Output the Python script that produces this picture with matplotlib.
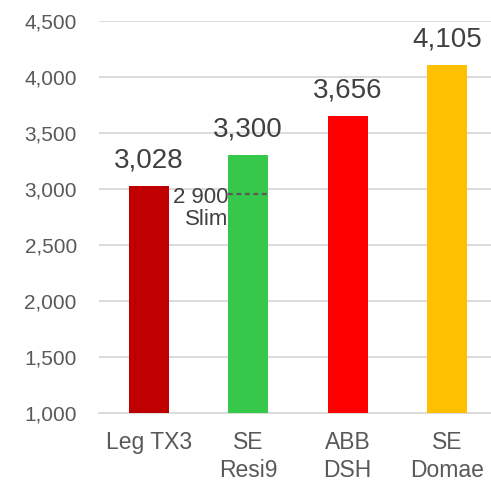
import matplotlib.pyplot as plt

plt.rcParams['font.family'] = ['Liberation Sans', 'DejaVu Sans']

# data
categories = ['Leg TX3', 'SE\nResi9', 'ABB\nDSH', 'SE\nDomae']
values = [3028, 3300, 3656, 4105]
colors = ['#C00000', '#35C84A', '#FF0000', '#FFC000']
value_labels = ['3,028', '3,300', '3,656', '4,105']
yticks = [1000, 1500, 2000, 2500, 3000, 3500, 4000, 4500]
ytick_labels = ['1,000', '1,500', '2,000', '2,500', '3,000', '3,500', '4,000', '4,500']
slim_pos = 2960
slim_label = '2 900\nSlim'

fig = plt.figure(figsize=(4.91, 4.8), dpi=100)
# plot area runs a little past the right edge, as in the original
ax = fig.add_axes([0.2016, 0.1396, 0.8106, 0.8164])

x = list(range(len(categories)))
ax.bar(x, values, width=0.40, color=colors, zorder=3)

# value labels above bars
for xi, v, lab in zip(x, values, value_labels):
    ax.annotate(lab, (xi, v), xytext=(0, 9), textcoords='offset points',
                ha='center', va='bottom', fontsize=20, color='#404040')

# slim marker on the second bar
ax.plot([1 - 0.2, 1 + 0.2], [slim_pos, slim_pos], color='#595959',
        linestyle=(0, (2.2, 1.6)), linewidth=1.6, zorder=4)
ax.annotate(slim_label, (1 - 0.2, slim_pos), xytext=(0, -11),
            textcoords='offset points', ha='right', va='center',
            multialignment='right', fontsize=16, color='#404040',
            linespacing=1.05)

ax.set_xlim(-0.5, 3.5)
ax.set_ylim(1000, 4500)
ax.set_yticks(yticks)
ax.set_yticklabels(ytick_labels)
ax.set_xticks(x)
ax.set_xticklabels(categories, linespacing=1.3)

ax.grid(axis='y', color='#D9D9D9', linewidth=1.3, zorder=0)
for s in ['top', 'right', 'left']:
    ax.spines[s].set_visible(False)
ax.spines['bottom'].set_color('#D9D9D9')
ax.spines['bottom'].set_linewidth(1.3)

ax.tick_params(axis='y', length=0, pad=16, labelsize=15, labelcolor='#595959')
ax.tick_params(axis='x', length=0, pad=13, labelsize=16.5, labelcolor='#595959')

plt.savefig('out.png', dpi=100)
